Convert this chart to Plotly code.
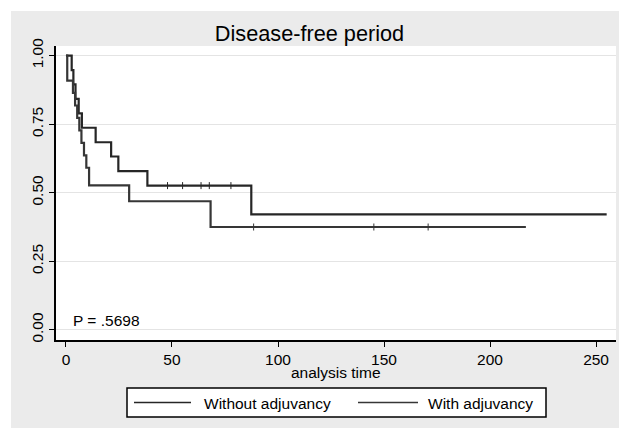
import plotly.graph_objects as go

# ---- data ----
title_text = "Disease-free period"
x_title = "analysis time"
p_text = "P = .5698"
group_names = ["Without adjuvancy", "With adjuvancy"]

# Kaplan-Meier steps (time, survival)
without_t = [0, 2.7, 3.5, 4.5, 6.0, 7.5, 14.0, 21.3, 24.7, 38.4, 87.4, 255]
without_s = [1.0, 0.947, 0.895, 0.842, 0.789, 0.737, 0.684, 0.632, 0.579, 0.526, 0.421, 0.421]
without_cens_t = [47.9, 55.0, 63.7, 67.6, 77.8]
without_cens_s = [0.526, 0.526, 0.526, 0.526, 0.526]

with_t = [0, 0.6, 3.3, 4.3, 5.3, 6.3, 7.3, 8.5, 9.6, 10.9, 29.8, 68.2, 216.9]
with_s = [1.0, 0.909, 0.864, 0.818, 0.773, 0.727, 0.682, 0.636, 0.591, 0.527, 0.469, 0.375, 0.375]
with_cens_t = [88.5, 145.2, 170.8]
with_cens_s = [0.375, 0.375, 0.375]

x_ticks = [0, 50, 100, 150, 200, 250]
y_ticks = [0, 0.25, 0.5, 0.75, 1.0]

line_colors = ["#262626", "#363636"]
FONT = "Liberation Sans, Arial, sans-serif"
FS = 15.5

W, H = 619, 428
L, R, T, B = 56, 3, 46, 88
pw, ph = W - L - R, H - T - B


def px(x):
    return (x - L) / pw


def py(y):
    return (H - B - y) / ph


fig = go.Figure()
for t, s, ct, cs, name, col in [
    (without_t, without_s, without_cens_t, without_cens_s, group_names[0], line_colors[0]),
    (with_t, with_s, with_cens_t, with_cens_s, group_names[1], line_colors[1]),
]:
    fig.add_trace(go.Scatter(x=t, y=s, mode="lines", line=dict(shape="hv", color=col, width=2.2),
                             name=name, showlegend=False))
    fig.add_trace(go.Scatter(x=ct, y=cs, mode="markers",
                             marker=dict(symbol="line-ns-open", size=5, color=col,
                                         line=dict(color=col, width=1)),
                             showlegend=False, hoverinfo="skip"))

shapes = [
    # white outer border (top & left)
    dict(type="rect", xref="paper", yref="paper", x0=px(0), x1=px(W), y0=py(0), y1=py(11),
         fillcolor="white", line=dict(width=0), layer="above"),
    dict(type="rect", xref="paper", yref="paper", x0=px(0), x1=px(11), y0=py(0), y1=py(H),
         fillcolor="white", line=dict(width=0), layer="above"),
    # legend box
    dict(type="rect", xref="paper", yref="paper", x0=px(127), x1=px(546), y0=py(388), y1=py(417),
         fillcolor="white", line=dict(color="black", width=1.5), layer="above"),
    dict(type="line", xref="paper", yref="paper", x0=px(134), x1=px(191), y0=py(402.5), y1=py(402.5),
         line=dict(color=line_colors[0], width=1.5), layer="above"),
    dict(type="line", xref="paper", yref="paper", x0=px(358), x1=px(418), y0=py(402.5), y1=py(402.5),
         line=dict(color=line_colors[1], width=1.5), layer="above"),
]

annotations = [
    dict(text=group_names[0], xref="paper", yref="paper", x=px(202), y=py(403), xanchor="left",
         yanchor="middle", showarrow=False, font=dict(family=FONT, size=FS, color="black")),
    dict(text=group_names[1], xref="paper", yref="paper", x=px(426), y=py(403), xanchor="left",
         yanchor="middle", showarrow=False, font=dict(family=FONT, size=FS, color="black")),
    dict(text=p_text, xref="paper", yref="paper", x=px(71), y=py(320), xanchor="left",
         yanchor="middle", showarrow=False, font=dict(family=FONT, size=FS, color="black")),
    dict(text=x_title, xref="paper", yref="paper", x=px(336), y=py(372.5), xanchor="center",
         yanchor="middle", showarrow=False, font=dict(family=FONT, size=FS, color="black")),
]

fig.update_layout(
    width=W, height=H,
    margin=dict(l=L, r=R, t=T, b=B, autoexpand=False),
    paper_bgcolor="#ebebeb",
    plot_bgcolor="white",
    title=dict(text=title_text, x=px(336), xanchor="center", y=1 - 33 / H, yanchor="middle",
               font=dict(family=FONT, size=21.7, color="black")),
    font=dict(family=FONT, size=FS, color="black"),
    shapes=shapes,
    annotations=annotations,
    showlegend=False,
)

fig.update_xaxes(range=[-4.7, 259.4], tickvals=x_ticks, ticks="outside", ticklen=5, tickwidth=1.2,
                 tickcolor="black", showline=True, linecolor="black", linewidth=1.5, showgrid=False,
                 zeroline=False, automargin=False, tickfont=dict(size=FS))
fig.update_yaxes(range=[-0.037, 1.035], tickvals=y_ticks, tickformat=".2f", tickangle=-90,
                 ticks="outside", ticklen=5, tickwidth=1.2, tickcolor="black", showline=True,
                 linecolor="black", linewidth=1.5, showgrid=True, gridcolor="#e4e4e4", gridwidth=1,
                 zeroline=False, automargin=False, tickfont=dict(size=FS))

fig.write_html("out.html", config={"displayModeBar": False},
               post_script="document.body.style.margin='0px';")
